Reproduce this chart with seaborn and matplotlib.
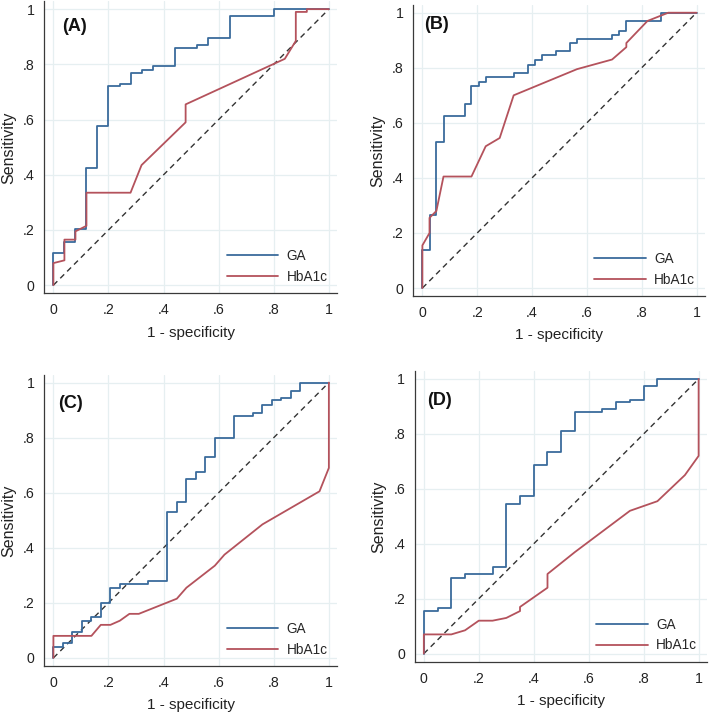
"""
ROC curves (GA vs HbA1c) for four groups, Stata-like style.
"""

import matplotlib
matplotlib.use('Agg')
import matplotlib.pyplot as plt
import seaborn as sns

# ─────────────────────────────────────────────
# Data (1 - specificity, sensitivity)
# ─────────────────────────────────────────────
a_ga_fpr = [0, 0, 0.04, 0.04, 0.08, 0.08, 0.12, 0.12, 0.16, 0.16, 0.20, 0.20, 0.24, 0.24,
            0.28, 0.28, 0.32, 0.32, 0.36, 0.36, 0.44, 0.44, 0.52, 0.52, 0.56, 0.56,
            0.64, 0.64, 0.80, 0.80, 1.0]
a_ga_tpr = [0, 0.115, 0.115, 0.155, 0.155, 0.205, 0.205, 0.425, 0.425, 0.575, 0.575, 0.72,
            0.72, 0.73, 0.73, 0.77, 0.77, 0.78, 0.78, 0.795, 0.795, 0.86, 0.86, 0.87, 0.87,
            0.895, 0.895, 0.975, 0.975, 1.0, 1.0]
a_hb_fpr = [0, 0, 0.04, 0.04, 0.08, 0.08, 0.12, 0.12, 0.28, 0.32, 0.48, 0.48, 0.84, 0.88,
            0.88, 0.92, 0.92, 1.0]
a_hb_tpr = [0, 0.08, 0.09, 0.165, 0.165, 0.195, 0.215, 0.335, 0.335, 0.435, 0.59, 0.655,
            0.82, 0.885, 0.99, 0.99, 1.0, 1.0]

b_ga_fpr = [0, 0, 0.026, 0.026, 0.051, 0.051, 0.077, 0.077, 0.154, 0.154, 0.179, 0.179,
            0.205, 0.205, 0.231, 0.231, 0.333, 0.333, 0.385, 0.385, 0.41, 0.41, 0.436, 0.436,
            0.487, 0.487, 0.538, 0.538, 0.564, 0.564, 0.692, 0.692, 0.718, 0.718,
            0.744, 0.744, 0.872, 0.872, 1.0]
b_ga_tpr = [0, 0.14, 0.14, 0.265, 0.265, 0.53, 0.53, 0.625, 0.625, 0.67, 0.67, 0.735,
            0.735, 0.75, 0.75, 0.765, 0.765, 0.78, 0.78, 0.81, 0.81, 0.83, 0.83, 0.845,
            0.845, 0.86, 0.86, 0.89, 0.89, 0.905, 0.905, 0.92, 0.92, 0.935,
            0.935, 0.97, 0.97, 1.0, 1.0]
b_hb_fpr = [0, 0, 0.026, 0.026, 0.051, 0.077, 0.179, 0.231, 0.282, 0.333, 0.564, 0.692,
            0.744, 0.744, 0.821, 0.897, 1.0]
b_hb_tpr = [0, 0.155, 0.20, 0.255, 0.28, 0.405, 0.405, 0.515, 0.545, 0.70, 0.795, 0.83,
            0.875, 0.89, 0.97, 1.0, 1.0]

c_ga_fpr = [0, 0, 0.034, 0.034, 0.069, 0.069, 0.103, 0.103, 0.138, 0.138, 0.172, 0.172,
            0.207, 0.207, 0.241, 0.241, 0.345, 0.345, 0.414, 0.414, 0.448, 0.448,
            0.483, 0.483, 0.517, 0.517, 0.552, 0.552, 0.586, 0.586, 0.655, 0.655,
            0.724, 0.724, 0.759, 0.759, 0.793, 0.793, 0.828, 0.828, 0.862, 0.862,
            0.897, 0.897, 1.0]
c_ga_tpr = [0, 0.04, 0.04, 0.055, 0.055, 0.095, 0.095, 0.135, 0.135, 0.15, 0.15, 0.20,
            0.20, 0.255, 0.255, 0.27, 0.27, 0.28, 0.28, 0.53, 0.53, 0.565,
            0.565, 0.65, 0.65, 0.675, 0.675, 0.73, 0.73, 0.80, 0.80, 0.88,
            0.88, 0.89, 0.89, 0.92, 0.92, 0.935, 0.935, 0.945, 0.945, 0.97,
            0.97, 1.0, 1.0]
c_hb_fpr = [0, 0, 0.138, 0.172, 0.207, 0.241, 0.276, 0.310, 0.448, 0.483, 0.586, 0.621,
            0.759, 0.966, 1.0, 1.0]
c_hb_tpr = [0, 0.08, 0.08, 0.12, 0.12, 0.135, 0.16, 0.16, 0.215, 0.255, 0.335, 0.375,
            0.485, 0.605, 0.69, 1.0]

d_ga_fpr = [0, 0, 0.05, 0.05, 0.10, 0.10, 0.15, 0.15, 0.25, 0.25, 0.30, 0.30, 0.35, 0.35,
            0.40, 0.40, 0.45, 0.45, 0.50, 0.50, 0.55, 0.55, 0.65, 0.65, 0.70, 0.70,
            0.75, 0.75, 0.80, 0.80, 0.85, 0.85, 1.0]
d_ga_tpr = [0, 0.155, 0.155, 0.165, 0.165, 0.275, 0.275, 0.29, 0.29, 0.315, 0.315, 0.545,
            0.545, 0.575, 0.575, 0.685, 0.685, 0.735, 0.735, 0.81, 0.81, 0.88, 0.88, 0.89,
            0.89, 0.915, 0.915, 0.925, 0.925, 0.975, 0.975, 1.0, 1.0]
d_hb_fpr = [0, 0, 0.10, 0.15, 0.20, 0.25, 0.30, 0.35, 0.35, 0.45, 0.45, 0.55, 0.75, 0.85,
            0.95, 1.0, 1.0]
d_hb_tpr = [0, 0.07, 0.07, 0.085, 0.12, 0.12, 0.13, 0.155, 0.17, 0.24, 0.29, 0.37, 0.52,
            0.555, 0.65, 0.72, 1.0]

panel_labels = ["(A)", "(B)", "(C)", "(D)"]
series_names = ["GA", "HbA1c"]
tick_values  = [0, 0.2, 0.4, 0.6, 0.8, 1.0]
tick_labels  = ["0", ".2", ".4", ".6", ".8", "1"]
diag         = [0, 1]

# ─────────────────────────────────────────────
# Style
# ─────────────────────────────────────────────
sns.set_style("white")
plt.rcParams['font.family'] = ['Liberation Sans', 'DejaVu Sans']

GA_COLOR = "#3a6b9c"
HB_COLOR = "#b4525c"
GRID_COLOR = "#e6eff1"
AXIS_COLOR = "#3a3a3a"

# axes rectangles (left, bottom, width, height) in figure fraction
positions = [
    (0.0625, 0.589, 0.413, 0.409),
    (0.583, 0.585, 0.411, 0.408),
    (0.0625, 0.067, 0.413, 0.408),
    (0.585, 0.073, 0.412, 0.407),
]
# panel label anchor (data coords)
label_xy = [(0.03, 0.937), (0.008, 0.958), (0.017, 0.925), (0.012, 0.921)]

panels = [
    (a_ga_fpr, a_ga_tpr, a_hb_fpr, a_hb_tpr),
    (b_ga_fpr, b_ga_tpr, b_hb_fpr, b_hb_tpr),
    (c_ga_fpr, c_ga_tpr, c_hb_fpr, c_hb_tpr),
    (d_ga_fpr, d_ga_tpr, d_hb_fpr, d_hb_tpr),
]

fig = plt.figure(figsize=(7.09, 7.14), dpi=100)
fig.patch.set_facecolor("white")

for pos, (gx, gy, hx, hy), lab, lxy in zip(positions, panels, panel_labels, label_xy):
    ax = fig.add_axes(pos)

    # grid first so it sits below the curves
    for t in tick_values:
        ax.axhline(t, color=GRID_COLOR, lw=0.9, zorder=0)
        ax.axvline(t, color=GRID_COLOR, lw=0.9, zorder=0)

    sns.lineplot(x=gx, y=gy, sort=False, estimator=None, color=GA_COLOR,
                 lw=1.3, label=series_names[0], ax=ax, zorder=3)
    sns.lineplot(x=hx, y=hy, sort=False, estimator=None, color=HB_COLOR,
                 lw=1.3, label=series_names[1], ax=ax, zorder=3)
    ax.plot(diag, diag, color="#333333", lw=1.0, ls=(0, (4, 3)), zorder=2)

    ax.set_xlim(-0.033, 1.03)
    ax.set_ylim(-0.03, 1.028)
    ax.set_xticks(tick_values)
    ax.set_xticklabels(tick_labels)
    ax.set_yticks(tick_values)
    ax.set_yticklabels(tick_labels)
    ax.tick_params(axis="both", direction="out", length=4, width=0.8,
                   color=AXIS_COLOR, labelsize=10.2, labelcolor="#222222", pad=3)

    for side in ["top", "right"]:
        ax.spines[side].set_visible(False)
    for side in ["left", "bottom"]:
        ax.spines[side].set_color(AXIS_COLOR)
        ax.spines[side].set_linewidth(0.9)

    ax.set_xlabel("1 - specificity", fontsize=11, color="#222222", labelpad=6)
    ax.set_ylabel("Sensitivity", fontsize=11.5, color="#222222", labelpad=5)

    ax.text(lxy[0], lxy[1], lab, fontsize=13, fontweight="bold", ha="left",
            va="center", color="#111111")

    ax.legend(loc="lower right", bbox_to_anchor=(1.0, 0.0), frameon=False,
              fontsize=9.8, handlelength=3.8, labelspacing=0.5,
              handletextpad=0.6, borderaxespad=0.3)

plt.savefig("out.png", dpi=100, facecolor="white")
print("saved out.png")
